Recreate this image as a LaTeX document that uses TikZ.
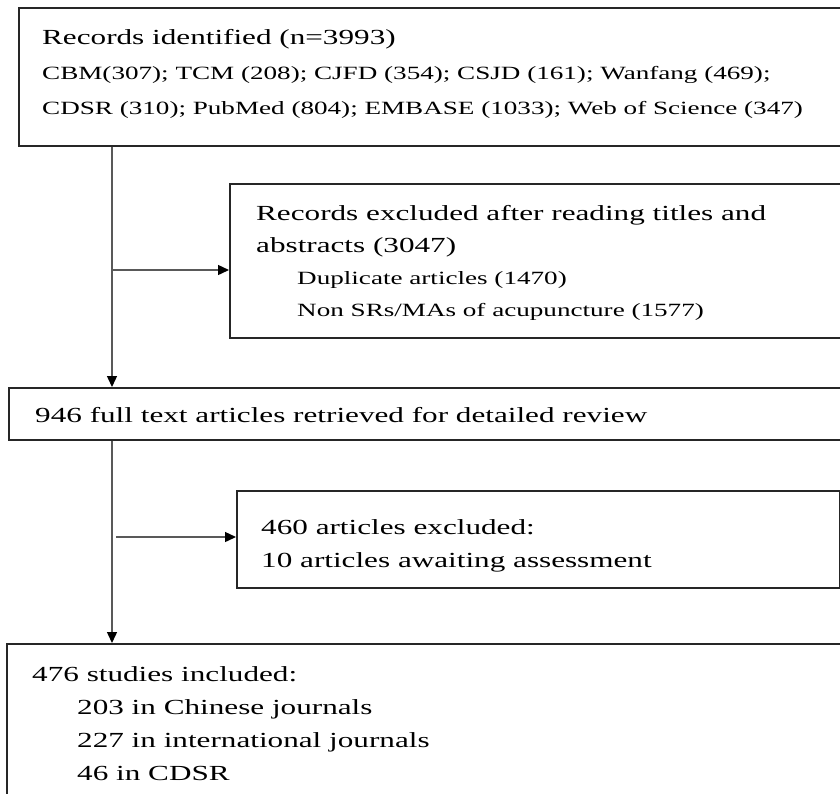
\documentclass[tikz,border=0pt]{standalone}
\usepackage{fontspec}
\setmainfont{Liberation Serif}[FakeStretch=1.45]
\usepackage{xcolor}
\usetikzlibrary{arrows.meta}

\tikzset{
  box/.style={draw=black!85, line width=1.6pt, anchor=north west, inner sep=0pt},
  txt/.style={anchor=north west, align=left, inner sep=0pt, font=\fontsize{21.5}{33}\selectfont},
  link/.style={draw=black!65, line width=1.4pt},
  tip/.style={-{Triangle[length=11pt,width=10pt,color=black]}}
}
\newcommand{\smallline}[1]{{\fontsize{18.7}{33}\selectfont #1}}

\begin{document}
\begin{tikzpicture}[x=1pt,y=-1pt]
    \clip (0,0) rectangle (840,793);

    % Boxes
    \node[box, minimum width=840pt, minimum height=138pt] (identified) at (18,7) {};
    \node[box, minimum width=630pt, minimum height=154pt] (screened) at (229,183) {};
    \node[box, minimum width=850pt, minimum height=52pt] (retrieved) at (8,387) {};
    \node[box, minimum width=603pt, minimum height=97pt] (awaiting) at (236,490) {};
    \node[box, minimum width=850pt, minimum height=170pt] (included) at (6,643) {};

    % Texts
    \node[txt, font=\fontsize{21.5}{35}\selectfont] (identifiedtxt) at (42,29) {Records identified (n=3993)\\
        \smallline{CBM(307); TCM (208); CJFD (354); CSJD (161); Wanfang (469);}\\
        \smallline{CDSR (310); PubMed (804); EMBASE (1033); Web of Science (347)}};
    \node[txt, font=\fontsize{21.5}{32}\selectfont] (screenedtxt) at (256,205) {Records excluded after reading titles and\\
        abstracts (3047)\\
        \hspace*{41pt}\smallline{Duplicate articles (1470)}\\
        \hspace*{41pt}\smallline{Non SRs/MAs of acupuncture (1577)}};
    \node[txt] (retrievedtxt) at (35,407) {946 full text articles retrieved for detailed review};
    \node[txt] (awaitingtxt) at (261,519) {460 articles excluded:\\
        10 articles awaiting assessment};
    \node[txt] (includedtxt) at (32,666) {476 studies included:\\
        \hspace*{45pt}203 in Chinese journals\\
        \hspace*{45pt}227 in international journals\\
        \hspace*{45pt}46 in CDSR};

    % Connectors
    \coordinate (trunk) at (112,0);
    \coordinate (split1) at (112,270);
    \coordinate (split2) at (116,537);
    \draw[link, tip] (identified.south -| trunk) -- (retrieved.north -| trunk);
    \draw[link, tip] (split1) -- (split1 -| screened.west);
    \draw[link, tip] (retrieved.south -| trunk) -- (included.north -| trunk);
    \draw[link, tip] (split2) -- (split2 -| awaiting.west);
\end{tikzpicture}
\end{document}
